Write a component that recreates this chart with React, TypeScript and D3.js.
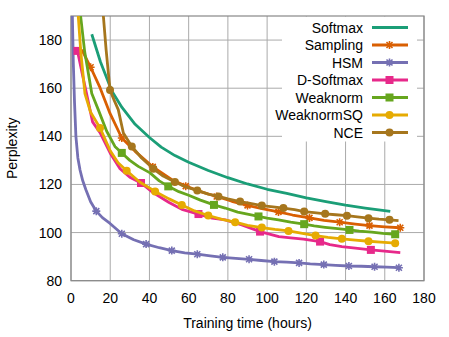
import React, { useEffect, useRef } from "react";
import * as d3 from "d3";

// [hours, perplexity, marker?]
const softmax = [
  [10.6, 182.4], [15, 171], [20.8, 158.8], [26, 152], [32.7, 145], [40, 139.5],
  [46, 135.5], [53, 132], [60, 129.2], [70, 125.8], [80, 122.8], [90, 120.2],
  [100, 118], [110, 116.3], [120, 114.4], [130, 112.9], [140, 111.4], [150, 110.2],
  [162.8, 108.8],
];

const sampling = [
  [5.5, 176], [10, 168.7, 1], [14.8, 160.2], [19.9, 149.5], [25.9, 139.3, 1],
  [32.7, 133.75], [41.7, 127.3, 1], [46.3, 124.75], [52, 121.7], [58.5, 119.3, 1],
  [66, 117], [74.3, 115, 1], [82, 113], [90, 111.3, 1], [98, 109.8], [105.8, 108.6, 1],
  [113, 107.3], [121.6, 106.1, 1], [129, 105.1], [137, 104.3, 1], [145, 103.5],
  [152.2, 102.9, 1], [160, 102.4], [167.9, 102, 1],
];

const hsm = [
  [0.4, 215], [0.7, 190], [1.2, 170], [1.8, 154], [2.5, 140], [3.5, 131], [4.6, 126],
  [6, 121.5], [7.6, 117.8], [10, 112.8], [12.9, 108.9, 1], [16, 106.2], [19.9, 103.8],
  [25.9, 99.5, 1], [32, 97], [38.3, 95.2, 1], [45, 93.7], [51.4, 92.5, 1], [58, 91.6],
  [64.4, 91, 1], [71, 90.3], [77.4, 89.7, 1], [84, 89.3], [90.8, 88.9, 1], [97, 88.4],
  [103.7, 87.9, 1], [110, 87.7], [116.3, 87.4, 1], [122, 87], [128.9, 86.7, 1],
  [135, 86.4], [141.7, 86.1, 1], [148, 86], [154.8, 85.8, 1], [161, 85.6], [167.2, 85.4, 1],
];

const dSoftmax = [
  [3.3, 175.5, 1], [6, 165], [9.7, 151], [11, 146], [14.8, 141.5], [20, 133],
  [25, 126.5], [30, 123], [35.7, 120.6, 1], [42, 116.5], [50, 112.5], [57, 109.5],
  [65, 107.7, 1], [72, 106], [78.6, 105.3], [87.1, 103.2], [96.4, 100.4, 1], [106, 98.3],
  [112, 97.8], [118.5, 97.25], [127, 96.25, 1], [132, 95], [138.1, 94.2], [145, 93.5],
  [152.9, 92.8, 1], [158.5, 92.4], [167.9, 91.7],
];

const weaknorm = [
  [3.5, 205], [4.9, 190], [7, 175], [10.6, 157.8], [13.9, 151.1], [18.2, 142.1],
  [22.4, 135.8], [25.9, 133.1, 1], [30, 130], [34.3, 127.5], [40.3, 124.8], [45, 121.5],
  [49.6, 119.2, 1], [55, 117], [60, 115.5], [66, 113.5], [72.9, 111.5, 1], [78.6, 110.2],
  [85, 108.5], [90, 107.7], [95.6, 106.7, 1], [100, 106], [105.8, 105.3], [112, 104.3],
  [118.9, 103.5, 1], [124, 102.8], [129.6, 102.2], [136, 101.6], [142, 101.1, 1],
  [147, 100.6], [153.4, 100.2], [159, 99.7], [165.3, 99.3, 1],
];

const weaknormSQ = [
  [2.5, 205], [3.7, 190], [5, 175], [7.1, 157.8], [10, 150], [14.8, 143.5, 1], [20, 134],
  [24, 129], [28.4, 125.7, 1], [35, 121], [42.9, 117.1, 1], [50, 114], [56.5, 111.5, 1],
  [63, 109], [70, 107.1, 1], [77, 105.5], [83.7, 104.3, 1], [90, 103], [97.3, 102.1, 1],
  [104, 101.3], [110.9, 100.7, 1], [118, 99.7], [124.7, 98.75, 1], [131, 98],
  [138.1, 97.4, 1], [145, 96.9], [151.7, 96.4, 1], [158, 96], [165.3, 95.6, 1],
];

const nce = [
  [15.8, 205], [16.5, 190], [17.9, 176], [19.9, 159.2, 1], [22, 155], [24.1, 151.1],
  [26.7, 141.4], [31, 135.8, 1], [36, 131], [42, 126.5, 1], [47, 123.5], [53, 121, 1],
  [58.5, 119], [64.4, 117.5, 1], [70, 116], [75.2, 115, 1], [80, 114], [86.2, 112.9, 1],
  [92, 112], [97.3, 111.2, 1], [103, 110.7], [108.3, 110.2, 1], [114, 109.5],
  [118.9, 108.75, 1], [124, 108.3], [129.6, 107.8, 1], [135, 107.4], [140.7, 107, 1],
  [146, 106.5], [151.7, 106, 1], [157, 105.6], [162.4, 105.3, 1], [167, 105],
];

const seriesNames = ["Softmax", "Sampling", "HSM", "D-Softmax", "Weaknorm", "WeaknormSQ", "NCE"];
const seriesData = [softmax, sampling, hsm, dSoftmax, weaknorm, weaknormSQ, nce];
const colors = ["#1b9e77", "#d95f02", "#7570b3", "#e7298a", "#66a61e", "#e6ab02", "#a6761d"];
const markers = ["none", "star", "star", "square", "square", "circle", "circle"];

const xTicks = [0, 20, 40, 60, 80, 100, 120, 140, 160, 180];
const yTicks = [80, 100, 120, 140, 160, 180];

const W = 449;
const H = 337;
const left = 71;
const right = 424;
const top = 16;
const bottom = 280.7;

const App = () => {
  const svgRef = useRef(null);

  useEffect(() => {
    const svg = d3.select(svgRef.current);
    svg.selectAll("*").remove();

    const font = "'Liberation Sans', Arial, sans-serif";
    const x = d3.scaleLinear().domain([0, 180]).range([left, right]);
    const y = d3.scaleLinear().domain([80, 190]).range([bottom, top]);

    svg.append("rect").attr("width", W).attr("height", H).attr("fill", "#fff");

    // grid
    const grid = svg.append("g").attr("stroke", "#aaa").attr("stroke-width", 1);
    xTicks.forEach((t) => {
      grid.append("line").attr("x1", x(t)).attr("x2", x(t)).attr("y1", top).attr("y2", bottom);
    });
    yTicks.forEach((t) => {
      grid.append("line").attr("x1", left).attr("x2", right).attr("y1", y(t)).attr("y2", y(t));
    });

    // legend background covers grid
    svg.append("rect")
      .attr("x", 282).attr("y", top + 0.5)
      .attr("width", 135).attr("height", 125)
      .attr("fill", "#fff");

    // border
    svg.append("rect")
      .attr("x", left).attr("y", top)
      .attr("width", right - left).attr("height", bottom - top)
      .attr("fill", "none").attr("stroke", "#888").attr("stroke-width", 1.2);

    // tick labels
    svg.append("g")
      .selectAll("text")
      .data(xTicks)
      .join("text")
      .attr("x", (d) => x(d))
      .attr("y", 303)
      .attr("text-anchor", "middle")
      .attr("font-family", font)
      .attr("font-size", 14)
      .text((d) => d);

    svg.append("g")
      .selectAll("text")
      .data(yTicks)
      .join("text")
      .attr("x", 62)
      .attr("y", (d) => y(d) + 5)
      .attr("text-anchor", "end")
      .attr("font-family", font)
      .attr("font-size", 14)
      .text((d) => d);

    svg.append("text")
      .attr("x", (left + right) / 2)
      .attr("y", 328)
      .attr("text-anchor", "middle")
      .attr("font-family", font)
      .attr("font-size", 14)
      .text("Training time (hours)");

    svg.append("text")
      .attr("transform", `translate(17, ${(top + bottom) / 2}) rotate(-90)`)
      .attr("text-anchor", "middle")
      .attr("font-family", font)
      .attr("font-size", 14)
      .text("Perplexity");

    // clip
    svg.append("defs").append("clipPath").attr("id", "plotclip")
      .append("rect")
      .attr("x", left).attr("y", top)
      .attr("width", right - left).attr("height", bottom - top);

    const drawMarker = (g, kind, cx, cy, color) => {
      if (kind === "square") {
        g.append("rect").attr("x", cx - 4).attr("y", cy - 4).attr("width", 8).attr("height", 8).attr("fill", color);
      } else if (kind === "circle") {
        g.append("circle").attr("cx", cx).attr("cy", cy).attr("r", 4).attr("fill", color);
      } else if (kind === "star") {
        const r = 4;
        const d = r * 0.75;
        g.append("path")
          .attr("d", `M${cx - r},${cy}H${cx + r}M${cx},${cy - r}V${cy + r}M${cx - d},${cy - d}L${cx + d},${cy + d}M${cx - d},${cy + d}L${cx + d},${cy - d}`)
          .attr("stroke", color).attr("stroke-width", 1.6).attr("fill", "none");
      }
    };

    const line = d3.line().x((d) => x(d[0])).y((d) => y(d[1])).curve(d3.curveLinear);

    const plot = svg.append("g").attr("clip-path", "url(#plotclip)");
    seriesData.forEach((data, i) => {
      const g = plot.append("g");
      g.append("path")
        .attr("d", line(data))
        .attr("fill", "none")
        .attr("stroke", colors[i])
        .attr("stroke-width", 2.8)
        .attr("stroke-linejoin", "round");
      data.filter((d) => d[2]).forEach((d) => drawMarker(g, markers[i], x(d[0]), y(d[1]), colors[i]));
    });

    // legend
    const legend = svg.append("g");
    seriesNames.forEach((name, i) => {
      const ly = 27.5 + i * 17.5;
      legend.append("text")
        .attr("x", 363)
        .attr("y", ly + 5)
        .attr("text-anchor", "end")
        .attr("font-family", font)
        .attr("font-size", 14)
        .text(name);
      legend.append("line")
        .attr("x1", 372).attr("x2", 408)
        .attr("y1", ly).attr("y2", ly)
        .attr("stroke", colors[i]).attr("stroke-width", 2.8);
      drawMarker(legend, markers[i], 389.5, ly, colors[i]);
    });
  }, []);

  return (
    <svg
      ref={svgRef}
      width={W}
      height={H}
      style={{ position: "absolute", left: 0, top: 0 }}
    />
  );
};

export default App;
